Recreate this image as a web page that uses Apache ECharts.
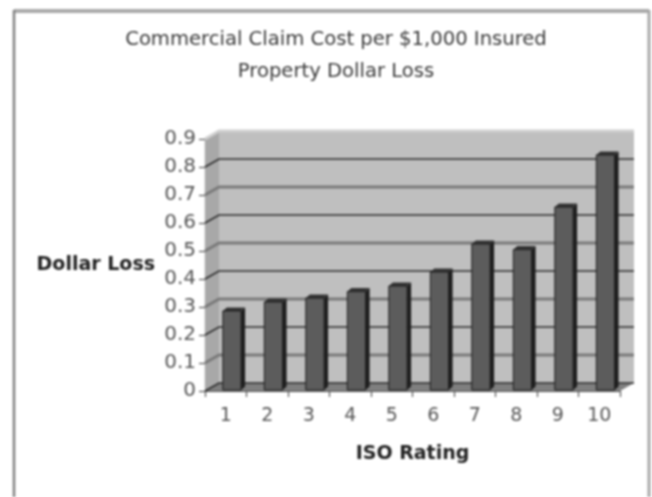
<!DOCTYPE html>
<html><head><meta charset="utf-8">
<style>html,body{margin:0;padding:0;background:#fff}#c{width:652px;height:497px;filter:blur(0.8px)}</style>
<script src="https://cdn.jsdelivr.net/npm/echarts@6/dist/echarts.min.js"></script>
</head><body><div id="c"></div>
<script>
const categories = ['1','2','3','4','5','6','7','8','9','10'];
const values = [0.286,0.318,0.332,0.355,0.375,0.425,0.525,0.505,0.657,0.843];
const yTicks = [0,0.1,0.2,0.3,0.4,0.5,0.6,0.7,0.8,0.9];
const titleLines = ['Commercial Claim Cost per $1,000 Insured','Property Dollar Loss'];
const DX = 14, DY = 8;
const chart = echarts.init(document.getElementById('c'), null, {renderer:'canvas'});
const font = '"DejaVu Sans", sans-serif';

function poly(points, fill, stroke, lw){
  return {type:'polygon', shape:{points}, style:{fill, stroke:stroke||null, lineWidth:lw||0}};
}
function renderWalls(params, api){
  const g = params.coordSys, x0 = g.x, x1 = g.x+g.width, top = g.y, bot = g.y+g.height;
  return {type:'group', children:[
    poly([[x0,top],[x0+DX,top-DY],[x0+DX,bot-DY],[x0,bot]], '#a8a8a8'),
    poly([[x0+DX,top-DY],[x1+DX,top-DY],[x1+DX,bot-DY],[x0+DX,bot-DY]], '#bfbfbf'),
    poly([[x0,bot],[x0+DX,bot-DY],[x1+DX,bot-DY],[x1,bot]], '#7f7f7f')
  ]};
}
function renderGrid(params, api){
  const g = params.coordSys, x0 = g.x, x1 = g.x+g.width;
  const idx = params.dataIndex, y = api.coord([0, api.value(0)])[1];
  const thin = idx%2===0;
  const top = idx===yTicks.length-1;
  const stroke = top ? '#d0d0d0' : (thin ? '#2c2c2c' : '#7a7a7a');
  return {type:'polyline', shape:{points:[[x0,y],[x0+DX,y-DY],[x1+DX,y-DY]]},
    style:{fill:null, stroke, lineWidth: thin?1.6:2.8}};
}
function renderBar(params, api){
  const c = api.coord([api.value(0), api.value(1)]);
  const base = api.coord([api.value(0), 0]);
  const band = api.size([1,0])[0];
  const l = c[0]-band*0.07, r = l+band*0.44, t = c[1], b = base[1]-1;
  const dx = 4, dy = 3.5;
  return {type:'group', children:[
    poly([[r,t],[r+dx,t-dy],[r+dx,b-dy],[r,b]], '#1e1e1e'),
    poly([[l,t],[l+dx,t-dy],[r+dx,t-dy],[r,t]], '#333333'),
    poly([[l,t],[r,t],[r,b],[l,b]], '#5c5c5c', '#1c1c1c', 1)
  ]};
}
chart.setOption({
  animation:false,
  backgroundColor:'#fff',
  title:{text:titleLines.join('\n'), left:331, top:19, textAlign:'center',
    textStyle:{fontFamily:font, fontSize:19.6, fontWeight:'normal', color:'#3a3a3a', lineHeight:32}},
  grid:{left:205, right:32, top:139, bottom:106, containLabel:false},
  xAxis:{type:'category', data:categories, name:'ISO Rating', nameLocation:'middle', nameGap:54,
    nameTextStyle:{fontFamily:font, fontSize:19, fontWeight:'bold', color:'#222'},
    axisLine:{lineStyle:{color:'#555',width:1.2}}, axisTick:{show:true,alignWithLabel:false,length:6,lineStyle:{color:'#555',width:1.2}},
    axisLabel:{fontFamily:font, fontSize:19, color:'#555', margin:16, interval:0}, splitLine:{show:false}},
  yAxis:{type:'value', min:0, max:0.9, interval:0.1, name:'Dollar Loss', nameLocation:'middle', nameRotate:0, nameGap:50,
    nameTextStyle:{fontFamily:font, fontSize:19, fontWeight:'bold', color:'#222', align:'right', verticalAlign:'middle'},
    axisLine:{show:true,lineStyle:{color:'#555',width:1.2}}, axisTick:{show:true,length:6,lineStyle:{color:'#555',width:1.2}},
    axisLabel:{fontFamily:font, fontSize:20, color:'#555', margin:9}, splitLine:{show:false}},
  graphic:[
    {type:'line', shape:{x1:14,y1:11,x2:649,y2:11}, style:{stroke:'#aaaaaa',lineWidth:4}},
    {type:'line', shape:{x1:14,y1:10,x2:14,y2:497}, style:{stroke:'#808080',lineWidth:2.5}},
    {type:'line', shape:{x1:649,y1:10,x2:649,y2:497}, style:{stroke:'#a8a8a8',lineWidth:3}}
  ],
  series:[
    {type:'custom', renderItem:renderWalls, data:[[0]], silent:true, clip:false, z:1, encode:{y:0}},
    {type:'custom', renderItem:renderGrid, data:yTicks.map(v=>[v]), silent:true, clip:false, z:2, encode:{y:0}},
    {type:'custom', renderItem:renderBar, data:values.map((v,i)=>[i,v]), silent:true, clip:false, z:3, encode:{x:0,y:1}}
  ]
});
</script></body></html>
